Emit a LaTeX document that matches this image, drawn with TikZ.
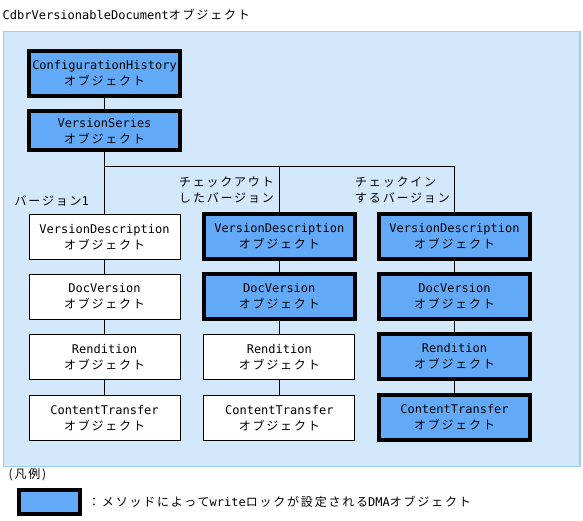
\documentclass[tikz,border=0pt]{standalone}
\usepackage{fontspec}
\setmainfont{DejaVu Sans Mono}
\newfontfamily\jp{Noto Sans CJK JP}[LetterSpace=15]
\definecolor{panelfill}{RGB}{212,232,252}
\definecolor{paneldraw}{RGB}{160,204,246}
\definecolor{boxblue}{RGB}{98,170,248}
\tikzset{
  txt/.style={font=\fontsize{12}{16}\selectfont, inner sep=0pt, text=black},
  whitebox/.style={txt, draw=black, line width=1pt, fill=white, minimum width=151pt, minimum height=45pt, align=center},
  bluebox/.style={whitebox, fill=boxblue, line width=4pt},
  conn/.style={draw=black, line width=1pt}
}
\begin{document}
\begin{tikzpicture}[x=1pt,y=-1pt]
\useasboundingbox (0,0) rectangle (583,521);
% panel
\draw[paneldraw, fill=panelfill, line width=1.2pt] (3.5,31.7) rectangle (580,466.3);
\node[txt, anchor=west] (title) at (2.5,15) {CdbrVersionableDocument{\jp オブジェクト}};

% top boxes
\node[bluebox] (ch) at (104.5,73.5) {ConfigurationHistory\\{\jp オブジェクト}};
\node[bluebox, minimum height=39pt] (vs) at (104.5,131) {VersionSeries\\{\jp オブジェクト}};

% junctions
\coordinate (j1) at (104.5,167);
\coordinate (j2) at (279.3,167);
\coordinate (j3) at (454.5,167);

% column 1
\node[whitebox] (a1) at (104.5,236.8) {VersionDescription\\{\jp オブジェクト}};
\node[whitebox] (a2) at (104.5,296.5) {DocVersion\\{\jp オブジェクト}};
\node[whitebox] (a3) at (104.5,356.8) {Rendition\\{\jp オブジェクト}};
\node[whitebox] (a4) at (104.5,418) {ContentTransfer\\{\jp オブジェクト}};
% column 2
\node[bluebox] (b1) at (279.3,236.5) {VersionDescription\\{\jp オブジェクト}};
\node[bluebox] (b2) at (279.3,296.2) {DocVersion\\{\jp オブジェクト}};
\node[whitebox] (b3) at (279.3,356.8) {Rendition\\{\jp オブジェクト}};
\node[whitebox] (b4) at (279.3,418) {ContentTransfer\\{\jp オブジェクト}};
% column 3
\node[bluebox] (c1) at (454.5,236.5) {VersionDescription\\{\jp オブジェクト}};
\node[bluebox] (c2) at (454.5,296.2) {DocVersion\\{\jp オブジェクト}};
\node[bluebox] (c3) at (454.5,356.5) {Rendition\\{\jp オブジェクト}};
\node[bluebox] (c4) at (454.5,417.5) {ContentTransfer\\{\jp オブジェクト}};

% labels
\node[txt, anchor=west] (lv1) at (14.5,201) {{\jp バージョン}1};
\node[txt, anchor=east, align=right] (lco) at (274,189.7) {{\jp チェックアウト}\\{\jp したバージョン}};
\node[txt, anchor=west, align=left] (lci) at (355,189.7) {{\jp チェックイン}\\{\jp するバージョン}};

% connectors
\draw[conn] (ch) -- (vs);
\draw[conn] (vs) -- (j1) -- (a1);
\draw[conn] (j1) -- (j3);
\draw[conn] (j2) -- (b1);
\draw[conn] (j3) -- (c1);
\draw[conn] (a1) -- (a2);
\draw[conn] (a2) -- (a3);
\draw[conn] (a3) -- (a4);
\draw[conn] (b1) -- (b2);
\draw[conn] (b2) -- (b3);
\draw[conn] (b3) -- (b4);
\draw[conn] (c1) -- (c2);
\draw[conn] (c2) -- (c3);
\draw[conn] (c3) -- (c4);

% legend
\node[txt, anchor=west] (lg) at (8.5,475) {{\jp (凡例)}};
\node[bluebox, minimum width=60.5pt, minimum height=24.5pt] (lgbox) at (49.3,502.2) {};
\node[txt, anchor=west] (lgtxt) at (88,502) {{\jp ：メソッドによって}write{\jp ロックが設定される}DMA{\jp オブジェクト}};
\end{tikzpicture}
\end{document}
